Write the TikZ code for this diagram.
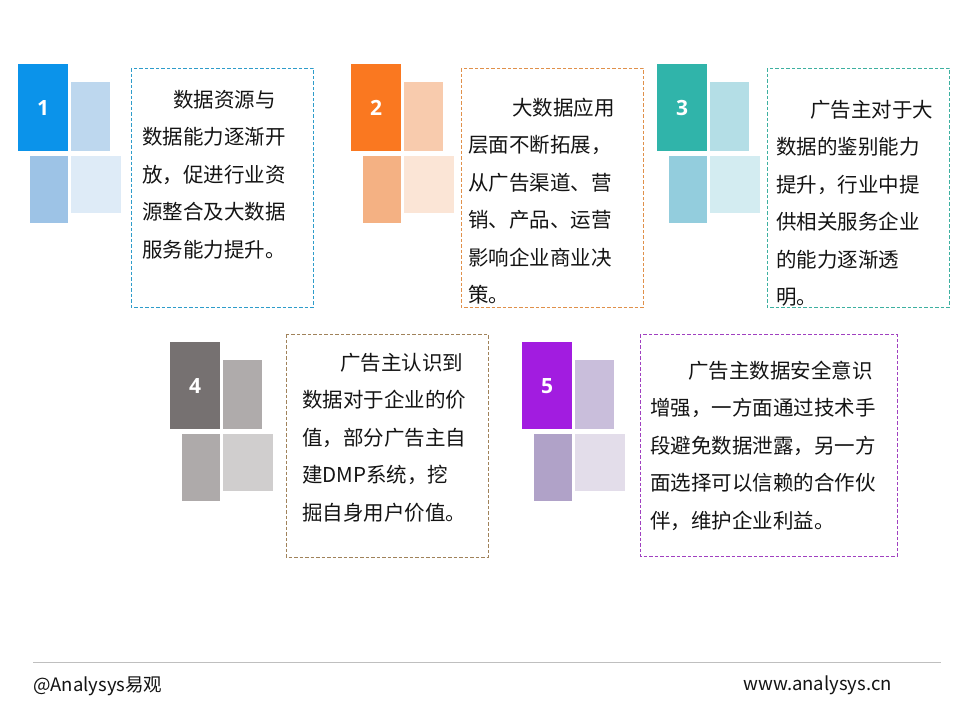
\documentclass[tikz,border=0pt]{standalone}
\usepackage{fontspec}
\newfontfamily\cjk{Noto Sans CJK SC}
\newfontfamily\numfont{Open Sans}
\definecolor{txtc}{HTML}{141414}
% group 1 blue
\definecolor{a1}{HTML}{0B93EA}\definecolor{a2}{HTML}{BDD7EE}\definecolor{a3}{HTML}{9DC3E6}\definecolor{a4}{HTML}{DEEBF7}\definecolor{ad}{HTML}{2E9CCA}
% group 2 orange
\definecolor{b1}{HTML}{FA7820}\definecolor{b2}{HTML}{F8CBAD}\definecolor{b3}{HTML}{F4B183}\definecolor{b4}{HTML}{FBE5D6}\definecolor{bd}{HTML}{E0904A}
% group 3 teal
\definecolor{c1}{HTML}{30B4AA}\definecolor{c2}{HTML}{B4DEE6}\definecolor{c3}{HTML}{93CDDD}\definecolor{c4}{HTML}{D3ECF1}\definecolor{cd}{HTML}{3DB0A0}
% group 4 gray
\definecolor{d1}{HTML}{767171}\definecolor{d2}{HTML}{AFABAB}\definecolor{d3}{HTML}{AEAAAA}\definecolor{d4}{HTML}{D0CECE}\definecolor{dd}{HTML}{A0825A}
% group 5 purple
\definecolor{e1}{HTML}{A21CE0}\definecolor{e2}{HTML}{C9BEDB}\definecolor{e3}{HTML}{B0A2C8}\definecolor{e4}{HTML}{E3DDEA}\definecolor{ed}{HTML}{A040C0}
\newcommand\tilegroup[7]{%
  \begin{scope}[shift={(#1,#2)}]
    \fill[#3] (0,0) rectangle (50,87);
    \fill[#4] (53,18) rectangle (92,87);
    \fill[#5] (12,92) rectangle (50,159);
    \fill[#6] (53,92) rectangle (103,149);
    \node[numlbl] (n#7) at (25,44) {#7};
  \end{scope}}
\begin{document}
\begin{tikzpicture}[x=1pt,y=-1pt,
  numlbl/.style={text=white,font={\numfont\bfseries\fontsize{21}{24}\selectfont},inner sep=0},
  dbox/.style={line width=0.9pt,dash pattern=on 3.5pt off 2pt},
  txt/.style={text=txtc,font={\cjk\fontsize{20.5}{37.5}\selectfont},align=left,inner sep=0,anchor=base west},
  foot/.style={text=txtc,font={\cjk\fontsize{18.5}{22}\selectfont},inner sep=0}]
\useasboundingbox (0,0) rectangle (960,720);
\fill[white] (0,0) rectangle (960,720);
% tiles
\tilegroup{18}{64}{a1}{a2}{a3}{a4}{1}
\tilegroup{351}{64}{b1}{b2}{b3}{b4}{2}
\tilegroup{657}{64}{c1}{c2}{c3}{c4}{3}
\tilegroup{170}{342}{d1}{d2}{d3}{d4}{4}
\tilegroup{522}{342}{e1}{e2}{e3}{e4}{5}
% dashed boxes
\draw[dbox,draw=ad] (131,68) rectangle (313,307);
\draw[dbox,draw=bd] (461,68) rectangle (643,307);
\draw[dbox,draw=cd] (767,68) rectangle (949,307);
\draw[dbox,draw=dd] (286,334) rectangle (488,557);
\draw[dbox,draw=ed] (640,334) rectangle (897,556);
% texts (base anchor = baseline of last line)
\node[txt] (t1) at (142,257) {\hspace*{31pt}数据资源与\\数据能力逐渐开\\放，促进行业资\\源整合及大数据\\服务能力提升。};
\node[txt] (t2) at (468,302.5) {\hspace*{44pt}大数据应用\\层面不断拓展，\\从广告渠道、营\\销、产品、运营\\影响企业商业决\\策。};
\node[txt] (t3) at (776,304.5) {\hspace*{34pt}广告主对于大\\数据的鉴别能力\\提升，行业中提\\供相关服务企业\\的能力逐渐透\\明。};
\node[txt] (t4) at (302,520) {\hspace*{38pt}广告主认识到\\数据对于企业的价\\值，部分广告主自\\建DMP系统，挖\\掘自身用户价值。};
\node[txt] (t5) at (650,528) {\hspace*{38pt}广告主数据安全意识\\增强，一方面通过技术手\\段避免数据泄露，另一方\\面选择可以信赖的合作伙\\伴，维护企业利益。};
% footer
\draw[black!25,line width=0.8pt] (33,662) -- (941,662);
\node[foot,anchor=west] (f1) at (33,686) {@Analysys易观};
\node[foot,anchor=east] (f2) at (892,685) {www.analysys.cn};
\end{tikzpicture}
\end{document}
